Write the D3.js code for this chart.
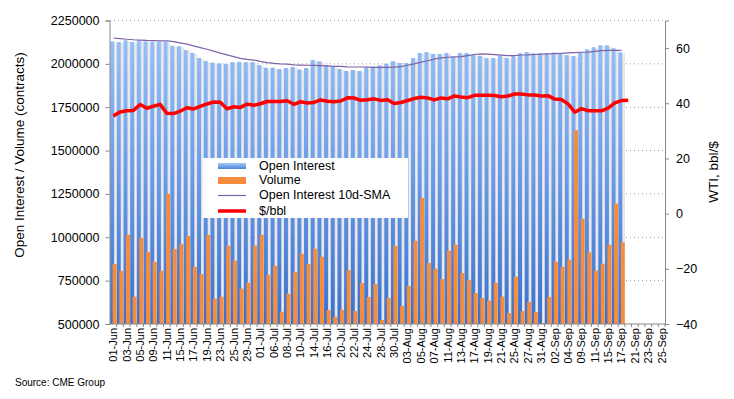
<!DOCTYPE html>
<html>
<head>
<meta charset="utf-8">
<script src="https://cdn.jsdelivr.net/npm/d3@7"></script>
<style>
  body { margin: 0; background: #fff; }
  text { font-family: "Liberation Sans", Arial, sans-serif; fill: #000; }
</style>
</head>
<body>
<div id="canvas"></div>
<script>
// trading days on the category axis (only every other one is labelled)
const dates = ["01-Jun","02-Jun","03-Jun","04-Jun","05-Jun","08-Jun","09-Jun","10-Jun","11-Jun","12-Jun",
  "15-Jun","16-Jun","17-Jun","18-Jun","19-Jun","22-Jun","23-Jun","24-Jun","25-Jun","26-Jun","29-Jun","30-Jun",
  "01-Jul","02-Jul","06-Jul","07-Jul","08-Jul","09-Jul","10-Jul","13-Jul","14-Jul","15-Jul","16-Jul","17-Jul",
  "20-Jul","21-Jul","22-Jul","23-Jul","24-Jul","27-Jul","28-Jul","29-Jul","30-Jul","31-Jul",
  "03-Aug","04-Aug","05-Aug","06-Aug","07-Aug","10-Aug","11-Aug","12-Aug","13-Aug","14-Aug",
  "17-Aug","18-Aug","19-Aug","20-Aug","21-Aug","24-Aug","25-Aug","26-Aug","27-Aug","28-Aug","31-Aug",
  "01-Sep","02-Sep","03-Sep","04-Sep","08-Sep","09-Sep","10-Sep","11-Sep","14-Sep","15-Sep","16-Sep",
  "17-Sep","18-Sep","21-Sep","22-Sep","23-Sep","24-Sep","25-Sep"];

// contracts
const openInterest = [2130000,2126000,2136000,2126000,2134000,2130000,2128000,2128000,2128000,2104000,
  2102000,2080000,2063000,2034000,2016000,2007000,2003000,2000000,2010000,2012000,2010000,2010000,
  1993000,1978000,1978000,1970000,1976000,1982000,1968000,1976000,2022000,2015000,1992000,1984000,
  1970000,1959000,1965000,1959000,1978000,1984000,1992000,2001000,2016000,2005000,
  2005000,2034000,2063000,2068000,2057000,2057000,2063000,2041000,2063000,2063000,
  2053000,2047000,2034000,2034000,2047000,2034000,2045000,2061000,2068000,2061000,2061000,
  2061000,2066000,2060000,2050000,2045000,2067000,2084000,2096000,2107000,2107000,2090000,2067000];

const volume = [846000,807000,1015000,657000,996000,917000,859000,807000,1250000,932000,
  961000,1007000,830000,788000,1013000,646000,657000,951000,865000,704000,738000,951000,
  1015000,784000,836000,571000,675000,800000,905000,846000,934000,888000,581000,542000,
  581000,811000,575000,736000,656000,731000,523000,650000,950000,604000,
  719000,980000,1227000,852000,819000,759000,923000,957000,794000,755000,
  679000,650000,635000,738000,658000,563000,773000,575000,627000,569000,505000,
  656000,859000,830000,871000,1617000,1107000,913000,809000,848000,957000,1194000,971000];

const oiSma = [2149000,2146000,2142000,2139000,2137000,2135000,2134000,2133000,2132000,2128000,
  2121000,2114000,2104000,2094000,2084000,2073000,2062000,2052000,2042000,2032000,2026000,2022000,
  2014000,2007000,2003000,2000000,1998000,1994000,1993000,1992000,1991000,1990000,1988000,1986000,
  1985000,1983000,1982000,1982000,1981000,1980000,1980000,1980000,1981000,1984000,
  1992000,2000000,2010000,2018000,2027000,2035000,2038000,2040000,2042000,2048000,
  2054000,2057000,2056000,2053000,2050000,2047000,2048000,2051000,2052000,2054000,2056000,
  2058000,2059000,2061000,2063000,2065000,2067000,2068000,2072000,2076000,2078000,2078000,2078000];

// WTI, $/bbl
const wti = [35.44,36.81,37.29,37.41,39.55,38.19,38.94,39.60,36.34,36.26,37.12,38.38,37.96,38.84,39.75,
  40.46,40.37,38.01,38.72,38.49,39.70,39.27,
  39.82,40.65,40.63,40.62,40.90,39.62,40.55,40.10,40.29,41.20,40.75,40.59,40.81,41.96,41.90,41.07,
  41.29,41.60,41.04,41.27,39.92,40.27,
  41.01,41.70,42.19,41.95,41.22,41.94,41.61,42.67,42.24,42.01,42.89,42.89,42.93,42.82,42.34,42.62,
  43.35,43.39,43.04,42.97,42.61,
  42.76,41.51,41.37,39.77,36.76,38.05,37.30,37.33,37.26,38.28,40.16,40.97,41.11];

const leftTicks = [500000,750000,1000000,1250000,1500000,1750000,2000000,2250000];
const rightTicks = [-40,-20,0,20,40,60];
const legendItems = ["Open Interest","Volume","Open Interest 10d-SMA","$/bbl"];

// dimensions
const width = 734;
const height = 399;
const plot = {left: 110, right: 665, top: 20.5, bottom: 324};

const svg = d3.select("#canvas").append("svg")
  .attr("width", width)
  .attr("height", height);

const defs = svg.append("defs");
const blue = defs.append("linearGradient").attr("id", "blue")
  .attr("gradientUnits", "userSpaceOnUse")
  .attr("x1", 0).attr("x2", 0).attr("y1", plot.top).attr("y2", plot.bottom);
blue.append("stop").attr("offset", 0).attr("stop-color", "#9dc4f9");
blue.append("stop").attr("offset", 0.5).attr("stop-color", "#6c9ce8");
blue.append("stop").attr("offset", 1).attr("stop-color", "#3a71cd");

const gap = defs.append("linearGradient").attr("id", "gap")
  .attr("x1", 0).attr("x2", 1).attr("y1", 0).attr("y2", 0);
gap.append("stop").attr("offset", 0).attr("stop-color", "#d6d6d6");
gap.append("stop").attr("offset", 0.5).attr("stop-color", "#efefef");
gap.append("stop").attr("offset", 1).attr("stop-color", "#dedede");

const blueKey = defs.append("linearGradient").attr("id", "blueKey")
  .attr("x1", 0).attr("x2", 0).attr("y1", 0).attr("y2", 1);
blueKey.append("stop").attr("offset", 0).attr("stop-color", "#a4c8fa");
blueKey.append("stop").attr("offset", 1).attr("stop-color", "#4d84da");

// scales
const x = d3.scaleBand().domain(dates).range([plot.left, plot.right]);
const y = d3.scaleLinear().domain([500000, 2250000]).range([plot.bottom, plot.top]);
const yR = d3.scaleLinear().domain([-40, 70]).range([plot.bottom, plot.top]);
const bw = x.bandwidth();
const barW = 4;
const cx = i => x(dates[i]) + bw / 2;

// dotted gridlines
svg.append("g").selectAll("line")
  .data(leftTicks.slice(1))
  .join("line")
  .attr("x1", plot.left).attr("x2", plot.right)
  .attr("y1", d => y(d)).attr("y2", d => y(d))
  .attr("stroke", "#9a9a9a")
  .attr("stroke-dasharray", "1,3");

// open interest: shadow strip then the bar
svg.append("g").selectAll("rect")
  .data(openInterest)
  .join("rect")
  .attr("x", (d, i) => x(dates[i]) + 0.1 + barW)
  .attr("width", bw - barW)
  .attr("y", d => y(d) + 1)
  .attr("height", d => plot.bottom - y(d) - 1)
  .attr("fill", "url(#gap)");

svg.append("g").selectAll("rect")
  .data(openInterest)
  .join("rect")
  .attr("x", (d, i) => x(dates[i]) + 0.1)
  .attr("width", barW)
  .attr("y", d => y(d))
  .attr("height", d => plot.bottom - y(d))
  .attr("fill", "url(#blue)");

// volume
svg.append("g").selectAll("rect")
  .data(volume)
  .join("rect")
  .attr("x", (d, i) => x(dates[i]) + 2.6)
  .attr("width", barW)
  .attr("y", d => y(d))
  .attr("height", d => plot.bottom - y(d))
  .attr("fill", "#f68c3d");

// 10d SMA
svg.append("path")
  .datum(oiSma)
  .attr("fill", "none")
  .attr("stroke", "#7e63a8")
  .attr("stroke-width", 1.2)
  .attr("d", d3.line().x((d, i) => cx(i)).y(d => y(d)));

// WTI price
svg.append("path")
  .datum(wti)
  .attr("fill", "none")
  .attr("stroke", "#ff0000")
  .attr("stroke-width", 3.5)
  .attr("stroke-linejoin", "round")
  .attr("d", d3.line().x((d, i) => cx(i)).y(d => yR(d)));

// left axis
const leftAxis = svg.append("g")
  .attr("transform", `translate(${plot.left - 0.5},0)`)
  .call(d3.axisLeft(y).tickValues(leftTicks).tickSize(4).tickPadding(6).tickFormat(d3.format("d")));
leftAxis.select(".domain").attr("stroke", "#888");
leftAxis.selectAll(".tick line").attr("stroke", "#888");
leftAxis.selectAll(".tick text").attr("font-size", "12.5px").attr("font-family", null);

// right axis
const rightAxis = svg.append("g")
  .attr("transform", `translate(${plot.right},0)`)
  .call(d3.axisRight(yR).tickValues(rightTicks).tickSize(4).tickPadding(7));
rightAxis.select(".domain").attr("stroke", "#888");
rightAxis.selectAll(".tick line").attr("stroke", "#888");
rightAxis.selectAll(".tick text").attr("font-size", "12.5px").attr("font-family", null);

// bottom axis: tick at every category boundary, label every other day
svg.append("line")
  .attr("x1", plot.left - 0.5).attr("x2", plot.right)
  .attr("y1", plot.bottom).attr("y2", plot.bottom)
  .attr("stroke", "#888");
svg.append("g").selectAll("line")
  .data(dates)
  .join("line")
  .attr("x1", d => x(d) + bw).attr("x2", d => x(d) + bw)
  .attr("y1", plot.bottom).attr("y2", plot.bottom + 3)
  .attr("stroke", "#888");
svg.append("g").selectAll("text")
  .data(dates.filter((d, i) => i % 2 === 0))
  .join("text")
  .attr("transform", d => `translate(${x(d) + bw / 2},${plot.bottom + 4}) rotate(-90)`)
  .attr("text-anchor", "end")
  .attr("dy", "0.35em")
  .attr("font-size", "11px")
  .text(d => d);

// axis titles
svg.append("text")
  .attr("transform", "translate(19,155) rotate(-90)")
  .attr("text-anchor", "middle")
  .attr("dominant-baseline", "central")
  .attr("font-size", "13.5px")
  .text("Open Interest / Volume (contracts)");

svg.append("text")
  .attr("transform", "translate(713,172) rotate(-90)")
  .attr("text-anchor", "middle")
  .attr("dominant-baseline", "central")
  .attr("font-size", "13.5px")
  .text("WTI, bbl/$");

// source
svg.append("text")
  .attr("x", 15).attr("y", 386)
  .attr("font-size", "10px")
  .text("Source: CME Group");

// legend
const legend = svg.append("g");
legend.append("rect")
  .attr("x", 203).attr("y", 158).attr("width", 205).attr("height", 60)
  .attr("fill", "#fff");
const rowY = [166, 180.5, 195.5, 211];
legend.append("rect").attr("x", 218).attr("y", rowY[0] - 3).attr("width", 28).attr("height", 6)
  .attr("fill", "url(#blueKey)");
legend.append("rect").attr("x", 218).attr("y", rowY[1] - 3.5).attr("width", 28).attr("height", 7)
  .attr("fill", "#f68c3d");
legend.append("line").attr("x1", 218).attr("x2", 246).attr("y1", rowY[2]).attr("y2", rowY[2])
  .attr("stroke", "#7e63a8").attr("stroke-width", 1.2);
legend.append("line").attr("x1", 218).attr("x2", 246).attr("y1", rowY[3]).attr("y2", rowY[3])
  .attr("stroke", "#ff0000").attr("stroke-width", 3.5);
legend.selectAll("text")
  .data(legendItems)
  .join("text")
  .attr("x", 259)
  .attr("y", (d, i) => rowY[i] - 0.5)
  .attr("dominant-baseline", "central")
  .attr("font-size", "12.5px")
  .text(d => d);
</script>
</body>
</html>
